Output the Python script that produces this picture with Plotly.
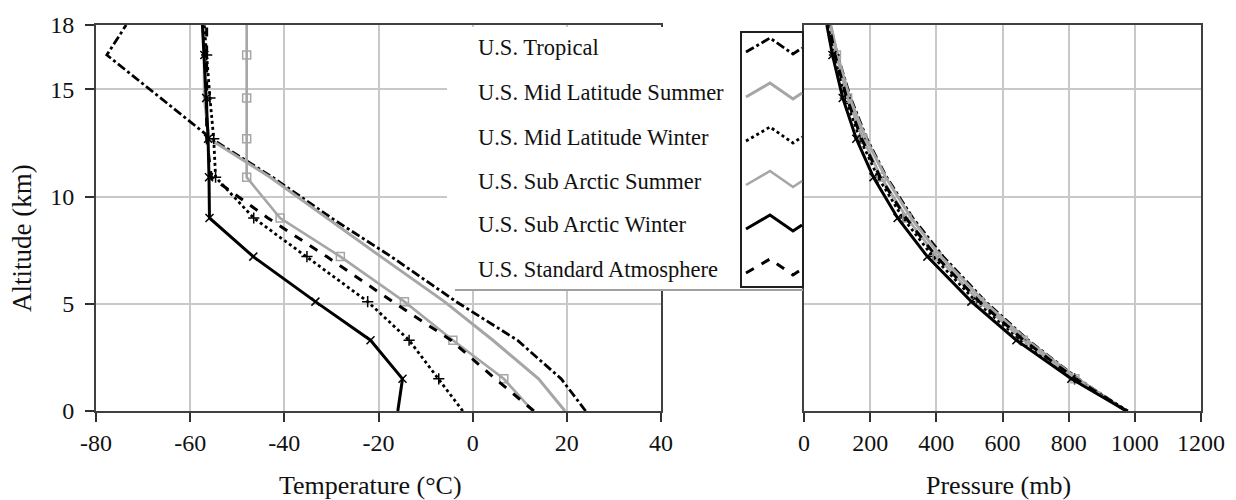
import plotly.graph_objects as go

W, H = 1236, 500

# ---------------- data ----------------
altitude_km = [0, 1.5, 3.3, 5.1, 7.2, 9.0, 10.9, 12.7, 14.6, 16.6, 18.0]

series_names = [
    "U.S. Tropical",
    "U.S. Mid Latitude Summer",
    "U.S. Mid Latitude Winter",
    "U.S. Sub Arctic Summer",
    "U.S. Sub Arctic Winter",
    "U.S. Standard Atmosphere",
]

temp_tropical = [24.0, 18.8, 9.5, -3.5, -17.3, -30.0, -42.5, -55.5, -66.3, -77.7, -73.6]
temp_mls = [19.6, 14.0, 4.3, -6.0, -19.5, -31.0, -43.0, -56.0, -57.0, -57.0, -57.3]
temp_mlw = [-2.1, -7.2, -13.5, -22.3, -35.2, -46.5, -54.6, -55.0, -55.8, -56.5, -57.0]
temp_sas = [12.8, 6.6, -4.2, -14.5, -28.1, -40.9, -48.0, -48.0, -48.0, -48.0, -48.0]
temp_saw = [-15.9, -14.9, -21.7, -33.4, -46.6, -55.9, -56.0, -56.2, -56.6, -57.0, -57.4]
temp_std = [13.0, 4.8, -4.6, -17.0, -31.0, -43.5, -55.5, -56.5, -56.5, -56.5, -56.5]

p_tropical = [975, 829, 678, 549, 421, 329, 250, 190, 141, 101, 79]
p_mls = [975, 827, 674, 544, 414, 324, 247, 187, 138, 101, 81]
p_mlw = [979, 818, 656, 521, 390, 299, 224, 169, 125, 92, 74]
p_sas = [972, 819, 663, 531, 402, 311, 233, 178, 132, 98, 80]
p_saw = [975, 808, 642, 506, 373, 283, 210, 158, 117, 86, 69]
p_std = [975, 821, 664, 530, 400, 308, 230, 174, 129, 94, 76]

temp_ticks = [-80, -60, -40, -20, 0, 20, 40]
temp_tick_labels = ["-80", "-60", "-40", "-20", "0", "20", "40"]
pres_ticks = [0, 200, 400, 600, 800, 1000, 1200]
alt_ticks = [0, 5, 10, 15, 18]

temps = [temp_tropical, temp_mls, temp_mlw, temp_sas, temp_saw, temp_std]
pressures = [p_tropical, p_mls, p_mlw, p_sas, p_saw, p_std]

# ---------------- styles ----------------
GRAY = "#a6a6a6"
styles = [
    dict(color="#000000", dash="dashdot", width=2.8, symbol=None),
    dict(color=GRAY, dash="solid", width=3, symbol=None),
    dict(color="#000000", dash="dot", width=2.8, symbol="cross-thin"),
    dict(color=GRAY, dash="solid", width=2.6, symbol="square-open"),
    dict(color="#000000", dash="solid", width=3, symbol="x-thin"),
    dict(color="#000000", dash="dash", width=3, symbol=None),
]

def px(x):
    return x / W

def py(y):
    return 1 - y / H

FONT = "Liberation Serif, Times New Roman, serif"

fig = go.Figure()

for name, t, p, st in zip(series_names, temps, pressures, styles):
    for xs, xa, ya in ((t, "x", "y"), (p, "x2", "y2")):
        fig.add_trace(go.Scatter(
            x=xs, y=altitude_km, mode="lines", name=name, showlegend=False,
            xaxis=xa, yaxis=ya,
            line=dict(color=st["color"], dash=st["dash"], width=st["width"]),
            hoverinfo="skip"))
        if st["symbol"]:
            fig.add_trace(go.Scatter(
                x=xs[1:-1], y=altitude_km[1:-1], mode="markers", showlegend=False,
                xaxis=xa, yaxis=ya,
                marker=dict(symbol=st["symbol"], size=8, color=st["color"],
                            line=dict(color=st["color"], width=1.5)),
                hoverinfo="skip"))

axis_common = dict(
    showline=True, linecolor="#404040", linewidth=2, mirror=True,
    showgrid=True, gridcolor="#c8c8c8", gridwidth=2,
    zeroline=False, ticklen=9, tickwidth=2, tickcolor="#303030",
    tickfont=dict(family=FONT, size=24, color="#111111"),
    automargin=False,
)

x1_dom = [px(96), px(661)]
x2_dom = [px(804), px(1201)]
y_dom = [py(411), py(25)]

fig.update_layout(
    width=W, height=H,
    margin=dict(l=0, r=0, t=0, b=0, autoexpand=False),
    paper_bgcolor="white", plot_bgcolor="white",
    showlegend=False,
    xaxis=dict(domain=x1_dom, range=[-80, 40], tickvals=temp_ticks,
               ticktext=temp_tick_labels, ticks="outside",
               anchor="y", **axis_common),
    yaxis=dict(domain=y_dom, range=[0, 18], tickvals=alt_ticks, ticks="outside",
               anchor="x", ticklabelstandoff=6, **axis_common),
    xaxis2=dict(domain=x2_dom, range=[0, 1200], tickvals=pres_ticks, ticks="outside",
                anchor="y2", **axis_common),
    yaxis2=dict(domain=y_dom, range=[0, 18], tickvals=alt_ticks, ticks="",
                anchor="x2", showticklabels=False, **axis_common),
)

# axis titles
fig.add_annotation(text="Altitude (km)", x=px(22), y=py(238), xref="paper", yref="paper",
                   xanchor="center", yanchor="middle",
                   textangle=-90, showarrow=False,
                   font=dict(family=FONT, size=27, color="#111111"))
fig.add_annotation(text="Temperature (°C)", x=px(370), y=py(485), xref="paper", yref="paper",
                   xanchor="center", yanchor="middle",
                   showarrow=False, font=dict(family=FONT, size=26, color="#111111"))
fig.add_annotation(text="Pressure (mb)", x=px(998), y=py(485), xref="paper", yref="paper",
                   xanchor="center", yanchor="middle",
                   showarrow=False, font=dict(family=FONT, size=26, color="#111111"))

# ---------------- legend (text left, sample right) ----------------
shapes = []
shapes.append(dict(type="rect", xref="paper", yref="paper", layer="above",
                   x0=px(447), x1=px(802), y0=py(289), y1=py(27),
                   fillcolor="white", line=dict(width=0)))
shapes.append(dict(type="line", xref="paper", yref="paper", layer="above",
                   x0=px(455), x1=px(803), y0=py(290), y1=py(290),
                   line=dict(color="#a0a0a0", width=2)))
shapes.append(dict(type="rect", xref="paper", yref="paper", layer="above",
                   x0=px(741), x1=px(803), y0=py(287), y1=py(32),
                   fillcolor="white", line=dict(color="#202020", width=2)))

row_y = [48, 93, 137, 181, 225, 269]
for name, st, yc in zip(series_names, styles, row_y):
    fig.add_annotation(text=name, x=px(476), y=py(yc), xref="paper", yref="paper",
                       xanchor="left", yanchor="middle", showarrow=False,
                       font=dict(family=FONT, size=22.5, color="#111111"))
    pts = [(746, yc + 4), (770, yc - 10), (793, yc + 6), (802, yc)]
    path = "M " + " L ".join(f"{px(a):.5f},{py(b):.5f}" for a, b in pts)
    shapes.append(dict(type="path", path=path, xref="paper", yref="paper", layer="above",
                       line=dict(color=st["color"], width=st["width"], dash=st["dash"])))

fig.update_layout(shapes=shapes)

fig.write_html("out.html", config={"displayModeBar": False},
               post_script="document.body.style.margin='0';")
